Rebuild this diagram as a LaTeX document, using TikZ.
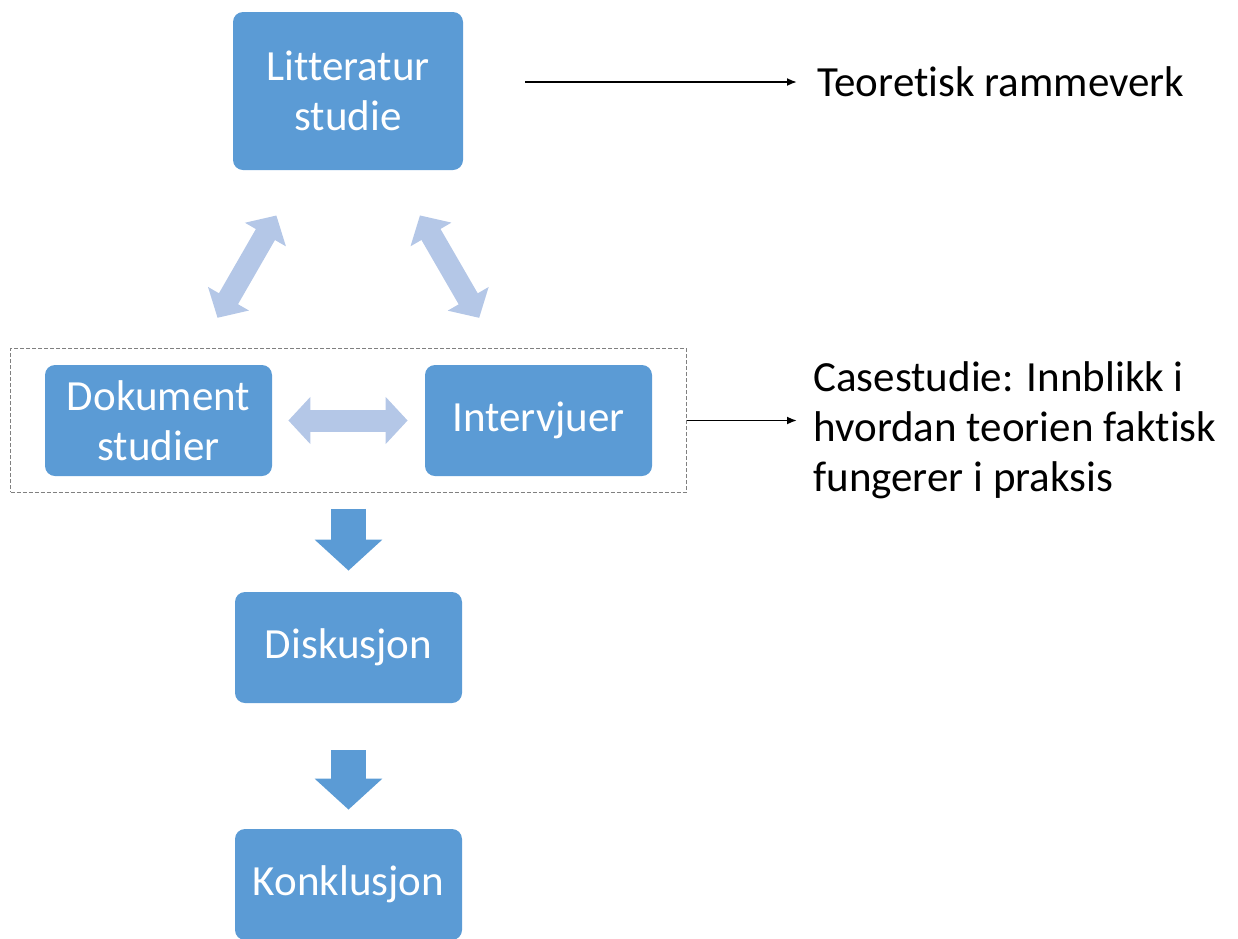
\documentclass[tikz,border=0pt]{standalone}
\usepackage{fontspec}
\setmainfont{Carlito}[Ligatures={NoCommon,NoRare}, Contextuals=NoAlternate, RawFeature={-liga;-calt;-dlig}]
\usetikzlibrary{arrows.meta,fit}
\definecolor{boxblue}{HTML}{5B9BD5}
\definecolor{lightblue}{HTML}{B4C7E7}
\definecolor{framegray}{HTML}{808080}
\begin{document}
\begin{tikzpicture}[x=0.5pt,y=-0.5pt]
        \useasboundingbox (0,0) rectangle (1238,938);
        \tikzstyle{every node}=[font=\fontsize{21.5}{25}\selectfont]
        \tikzstyle{box}=[fill=boxblue, rounded corners=5pt, text=white, align=center, minimum width=113.5pt, minimum height=55.5pt]
        \node[box, minimum width=115pt, minimum height=79pt] (lit) at (348, 91) {Litteratur\\studie};
        \node[box] (dok) at (158.5, 420.5) {Dokument\\studier};
        \node[box] (int) at (538.5, 420.5) {Intervjuer};
        \node[box] (dis) at (348.5, 647.5) {Diskusjon};
        \node[box] (kon) at (348.5, 884.5) {Konklusjon};
        \node[draw=framegray, line width=0.5pt, dash pattern=on 2pt off 1pt, inner xsep=17pt, inner ysep=8pt, fit=(dok)(int)] (case) {};
        \node[anchor=west, inner xsep=10pt] (teo) at (797, 82) {Teoretisk rammeverk};
        \node[anchor=west, align=left, inner xsep=8pt] (cas) at (797, 430) {Casestudie: Innblikk i\\hvordan teorien faktisk\\fungerer i praksis};
        \tikzstyle{dbl}=[lightblue, line width=11pt, {Triangle[length=11pt,width=23pt]}-{Triangle[length=11pt,width=23pt]}]
        \tikzstyle{down}=[boxblue, line width=17.5pt, -{Triangle[length=15.5pt,width=33pt]}]
        \draw[dbl, shorten <=26pt, shorten >=27pt] (lit) -- (dok);
        \draw[dbl, shorten <=26pt, shorten >=27pt] (lit) -- (int);
        \draw[dbl, shorten <=8pt, shorten >=8.5pt] (dok) -- (int);
        \draw[down, shorten <=8pt, shorten >=10.5pt] (case) -- (dis);
        \draw[down, shorten <=23.5pt, shorten >=9.5pt] (dis) -- (kon);
        \draw[-{Latex[length=5pt,width=4pt]}, line width=0.9pt, shorten <=31pt] (teo.west -| lit.east) -- (teo.west);
        \draw[-{Latex[length=5pt,width=4pt]}, line width=0.9pt] (case.east) -- (case.east -| cas.west);
    \end{tikzpicture}
\end{document}
